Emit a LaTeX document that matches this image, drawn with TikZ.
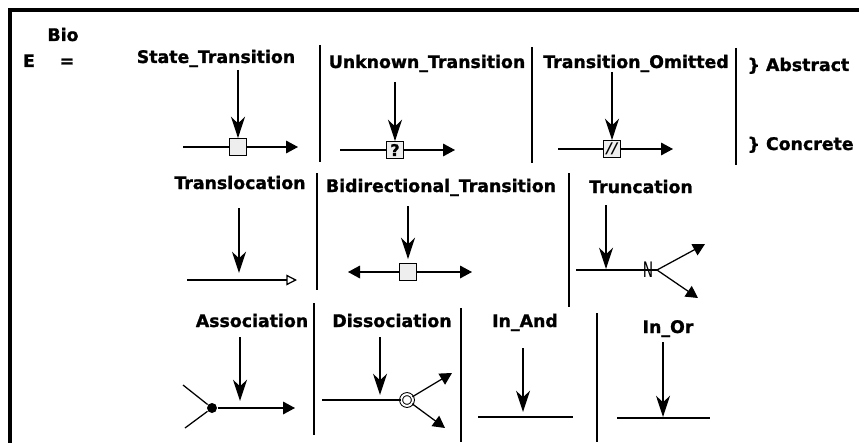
\documentclass[tikz,border=0pt]{standalone}
\usepackage{fontspec}
\setmainfont{DejaVu Sans}
\newfontfamily\heavyfont{DejaVu Sans Bold}[FakeBold=1.2]
\usetikzlibrary{arrows.meta}

\definecolor{boxgray}{RGB}{238,238,238}

\tikzset{
  caption/.style={font=\heavyfont\fontsize{13}{15}\selectfont, inner sep=0pt, anchor=base},
  proc/.style={draw, fill=boxgray, minimum size=12.5pt, inner sep=0pt, line width=0.9pt},
  mod/.style={-{Stealth[length=16pt,width=10.5pt,inset=5pt]}},
  prod/.style={-{Triangle[length=9pt,width=9.5pt]}},
  divider/.style={line width=0.8pt}
}

\begin{document}
\begin{tikzpicture}[x=0.75pt,y=-0.75pt,line width=0.95pt]
  \useasboundingbox (0,0) rectangle (859,442);
  % frame, open to the right and at the bottom
  \draw[line width=3pt] (10,450) -- (10,10) -- (870,10);

  \node[caption] (bio) at (63,41) {Bio};
  \node[caption] (e) at (29,67) {E};
  \node[caption] (eq) at (67,67) {=};

  % row 1
  \node[caption] (st) at (216,63) {State\_Transition};
  \coordinate (st-src) at (238,70);
  \node[proc] (st-box) at (238,147) {};
  \coordinate (st-in) at (183,147);
  \coordinate (st-out) at (298,147);
  \draw[mod] (st-src) -- (st-box);
  \draw (st-in) -- (st-box);
  \draw[prod] (st-box) -- (st-out);

  \node[caption] (ut) at (427,68) {Unknown\_Transition};
  \coordinate (ut-src) at (395,82);
  \node[proc, font=\heavyfont\fontsize{12}{12}\selectfont] (ut-box) at (395,150) {?};
  \coordinate (ut-in) at (340,150);
  \coordinate (ut-out) at (455,150);
  \draw[mod] (ut-src) -- (ut-box.north);
  \draw (ut-in) -- (ut-box);
  \draw[prod] (ut-box) -- (ut-out);

  \node[caption] (to) at (636,68) {Transition\_Omitted};
  \coordinate (to-src) at (612,72);
  \node[proc, font=\bfseries\itshape\fontsize{11}{11}\selectfont] (to-box) at (612,149) {//};
  \coordinate (to-in) at (558,149);
  \coordinate (to-out) at (673,149);
  \draw[mod] (to-src) -- (to-box);
  \draw (to-in) -- (to-box);
  \draw[prod] (to-box) -- (to-out);

  \node[caption, anchor=base west] (abs) at (747,71) {\} Abstract};
  \node[caption, anchor=base west] (con) at (747,150) {\} Concrete};

  % row 2
  \node[caption] (tl) at (240,189) {Translocation};
  \coordinate (tl-src) at (239,208);
  \coordinate (tl-tip) at (239,273);
  \coordinate (tl-in) at (187,280);
  \coordinate (tl-out) at (297,280);
  \draw[mod] (tl-src) -- (tl-tip);
  \draw[-{Triangle[open,length=8pt,width=8pt]}] (tl-in) -- (tl-out);

  \node[caption] (bt) at (441,192) {Bidirectional\_Transition};
  \coordinate (bt-src) at (408,206);
  \node[proc] (bt-box) at (408,272) {};
  \coordinate (bt-left) at (348,272);
  \coordinate (bt-right) at (472,272);
  \draw[mod, shorten >=3pt] (bt-src) -- (bt-box);
  \draw[prod] (bt-box) -- (bt-left);
  \draw[prod] (bt-box) -- (bt-right);

  \node[caption] (tr) at (641,193) {Truncation};
  \coordinate (tr-src) at (606,205);
  \coordinate (tr-tip) at (606,269);
  \coordinate (tr-in) at (576,270);
  \coordinate (tr-fork) at (657,270);
  \coordinate (tr-up) at (705,244);
  \coordinate (tr-down) at (698,298);
  \draw[mod] (tr-src) -- (tr-tip);
  \draw (tr-in) -- (tr-fork);
  \node[inner sep=0pt, font=\fontsize{16}{16}\selectfont] (tr-cut) at (648,270) {\scalebox{0.65}[1]{N}};
  \draw[prod] (tr-fork) -- (tr-up);
  \draw[prod] (tr-fork) -- (tr-down);

  % row 3
  \node[caption] (as) at (252,327) {Association};
  \coordinate (as-src) at (240,337);
  \coordinate (as-tip) at (240,401);
  \node[circle, fill=black, minimum size=7.5pt, inner sep=0pt] (as-dot) at (212,408) {};
  \coordinate (as-in1) at (183,385);
  \coordinate (as-in2) at (185,428);
  \coordinate (as-out) at (295,408);
  \draw[mod] (as-src) -- (as-tip);
  \draw (as-in1) -- (as-dot);
  \draw (as-in2) -- (as-dot);
  \draw[prod] (as-dot) -- (as-out);

  \node[caption] (ds) at (392,327) {Dissociation};
  \coordinate (ds-src) at (380,337);
  \coordinate (ds-tip) at (380,395);
  \coordinate (ds-in) at (322,400);
  \node[circle, draw, double, double distance=1.5pt, line width=0.75pt, minimum size=8.8pt, inner sep=0pt] (ds-ring) at (407,400) {};
  \coordinate (ds-up) at (452,373);
  \coordinate (ds-down) at (445,428);
  \draw[mod] (ds-src) -- (ds-tip);
  \draw (ds-in) -- (ds-ring);
  \draw[prod] (ds-ring) -- (ds-up);
  \draw[prod] (ds-ring) -- (ds-down);

  \node[caption] (ia) at (525,327) {In\_And};
  \coordinate (ia-src) at (523,348);
  \coordinate (ia-tip) at (523,412);
  \coordinate (ia-left) at (478,417);
  \coordinate (ia-right) at (573,417);
  \draw[mod] (ia-src) -- (ia-tip);
  \draw (ia-left) -- (ia-right);

  \node[caption] (io) at (668,333) {In\_Or};
  \coordinate (io-src) at (663,342);
  \coordinate (io-tip) at (663,417);
  \coordinate (io-left) at (617,418);
  \coordinate (io-right) at (710,418);
  \draw[mod] (io-src) -- (io-tip);
  \draw (io-left) -- (io-right);

  % dividers between the cells
  \begin{scope}[divider]
    \draw (320,45) -- (320,162);
    \draw (532,47) -- (532,163);
    \draw (736,48) -- (736,165);
    \draw (317,173) -- (317,290);
    \draw (569,173) -- (569,307);
    \draw (314,303) -- (314,435);
    \draw (461,308) -- (461,442);
    \draw (597,313) -- (597,442);
  \end{scope}
\end{tikzpicture}
\end{document}
